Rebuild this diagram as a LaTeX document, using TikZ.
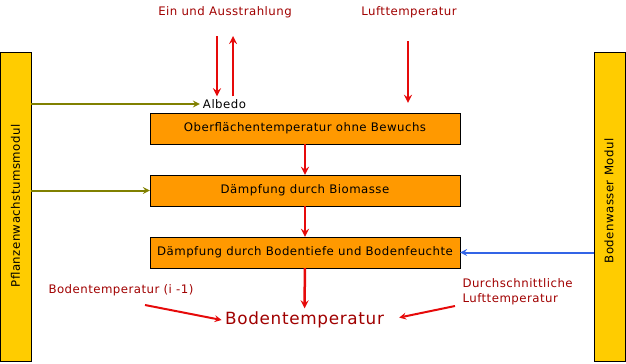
\documentclass[tikz,border=0pt]{standalone}
\usepackage{fontspec}
\setmainfont[LetterSpace=4]{DejaVu Sans}
\usetikzlibrary{arrows}
\definecolor{boxorange}{RGB}{255,153,0}
\definecolor{baryellow}{RGB}{255,204,0}
\definecolor{arrowred}{RGB}{230,10,10}
\definecolor{textred}{RGB}{160,0,0}
\definecolor{albedoolive}{RGB}{128,128,0}
\definecolor{wasserblue}{RGB}{50,100,230}
\newcommand{\smallfont}{\fontsize{11.8}{15.5}\selectfont}
\begin{document}
\begin{tikzpicture}[x=1bp,y=-1bp,
	box/.style={draw, fill=boxorange, minimum width=310bp, minimum height=31bp, inner sep=0pt, font=\smallfont},
	bar/.style={draw, fill=baryellow, minimum width=31bp, minimum height=309bp, inner sep=0pt},
	redarrow/.style={draw=arrowred, line width=2.5bp, -stealth},
	olivearrow/.style={draw=albedoolive, line width=2bp, -stealth},
	redtext/.style={text=textred, font=\smallfont}]
	\useasboundingbox (0,0) rectangle (626,363);
	% seitliche Module
	\node[bar] (pflanze) at (15.5,206.5) {};
	\node[rotate=90, font=\smallfont] at (15.5,206) {Pflanzenwachstumsmodul};
	\node[bar] (wasser) at (610,206.5) {};
	\node[rotate=90, font=\smallfont] at (609,201) {Bodenwasser Modul};
	% Kette
	\node[box] (oberfl) at (305,128.5) {Oberfl\"achentemperatur ohne Bewuchs};
	\node[box] (biomasse) at (305,190.5) {D\"ampfung durch Biomasse};
	\node[box] (tiefe) at (305,252.5) {D\"ampfung durch Bodentiefe und Bodenfeuchte};
	\node[text=textred, font=\fontsize{16.9}{20}\selectfont] (boden) at (304.5,320) {Bodentemperatur};
	% Eingaben
	\node[redtext] (strahlung) at (225,12) {Ein und Ausstrahlung};
	\node[redtext] (luft) at (409,12) {Lufttemperatur};
	\node[font=\smallfont, inner sep=3pt] (albedo) at (224.5,104) {Albedo};
	\node[redtext, anchor=west] (vorher) at (45,290) {Bodentemperatur (i -1)};
	\node[redtext, anchor=north west, align=left] (mittel) at (459,275) {Durchschnittliche\\Lufttemperatur};
	\coordinate (ein) at (217,36);
	\coordinate (aus) at (233,36);
	\coordinate (luftstart) at (408,41);
	\coordinate (vorherend) at (145,305);
	\coordinate (mittelend) at (455,306);
	% Pfeile
	\draw[redarrow] (ein) -- (ein |- albedo.north);
	\draw[redarrow] (aus |- albedo.north) -- (aus);
	\draw[redarrow, shorten >=10bp] (luftstart) -- (luftstart |- oberfl.north);
	\draw[redarrow] (oberfl) -- (biomasse);
	\draw[redarrow] (biomasse) -- (tiefe);
	\draw[redarrow] (tiefe) -- (boden);
	\draw[olivearrow] (pflanze.east |- albedo.west) -- (albedo.west);
	\draw[olivearrow] (pflanze.east |- biomasse.west) -- (biomasse.west);
	\draw[draw=wasserblue, line width=2bp, -stealth] (wasser.west |- tiefe.east) -- (tiefe.east);
	\draw[redarrow, line width=2bp] (vorherend) -- (boden.west);
	\draw[redarrow, line width=2bp, shorten >=12bp] (mittelend) -- (boden.east);
\end{tikzpicture}
\end{document}
